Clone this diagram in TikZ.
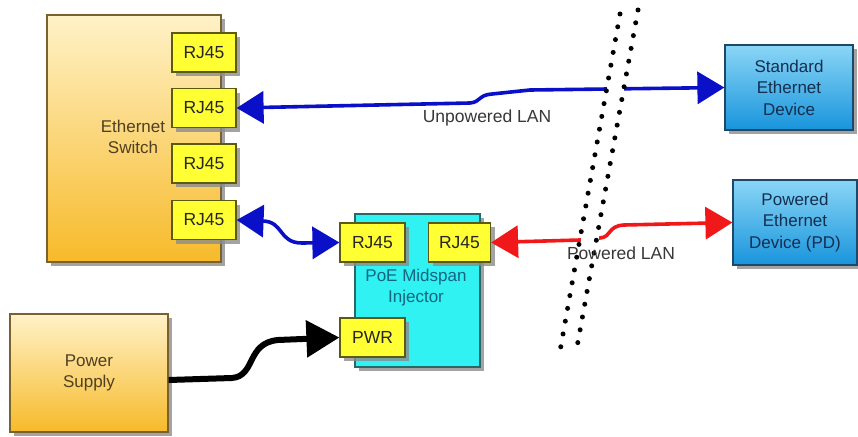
\documentclass[tikz,border=0pt]{standalone}
\usepackage{fontspec}
\setmainfont{Liberation Sans}
\usetikzlibrary{arrows.meta,shadows}
\definecolor{swtop}{HTML}{FFF2C8}
\definecolor{swbot}{HTML}{F7BA2A}
\definecolor{swbrd}{HTML}{7A6230}
\definecolor{swtxt}{HTML}{4E4020}
\definecolor{rjfill}{HTML}{FFFF33}
\definecolor{rjbrd}{HTML}{5A5A10}
\definecolor{injfill}{HTML}{30F2F2}
\definecolor{injbrd}{HTML}{2A6868}
\definecolor{injtxt}{HTML}{156480}
\definecolor{devtop}{HTML}{8AD6F6}
\definecolor{devbot}{HTML}{1894DC}
\definecolor{devbrd}{HTML}{1E4868}
\definecolor{devtxt}{HTML}{142E50}
\definecolor{lblue}{HTML}{0A10C8}
\definecolor{lred}{HTML}{F01818}
\definecolor{lbltxt}{HTML}{383838}
\tikzset{
  shad/.style={drop shadow={shadow xshift=4pt,shadow yshift=-4pt,fill=black!45,opacity=0.8}},
  goldbox/.style={draw=swbrd,line width=1.2pt,top color=swtop,bottom color=swbot,shad,
    text=swtxt,align=center,font=\fontsize{17}{21}\selectfont,inner sep=0pt},
  port/.style={draw=rjbrd,line width=1.2pt,fill=rjfill,shad,minimum height=39pt,
    text=black!85,font=\fontsize{17.5}{20}\selectfont,inner sep=0pt},
  injbox/.style={draw=injbrd,line width=1.2pt,fill=injfill,shad},
  devbox/.style={draw=devbrd,line width=1.2pt,top color=devtop,bottom color=devbot,shad,
    text=devtxt,align=center,font=\fontsize{17}{21.5}\selectfont,inner sep=0pt},
  bl/.style={draw=lblue,line width=3.6pt,{Triangle[length=27pt,width=32pt]}-{Triangle[length=27pt,width=32pt]}},
  rd/.style={draw=lred,line width=3.6pt,{Triangle[length=27pt,width=32pt]}-{Triangle[length=27pt,width=32pt]}},
  bk/.style={draw=black,line width=6pt,-{Triangle[length=33pt,width=36pt]}},
  dotline/.style={draw=black,line width=5pt,line cap=round,dash pattern=on 0pt off 13pt},
  lbl/.style={text=lbltxt,font=\fontsize{17.5}{20}\selectfont}
}
\begin{document}
\begin{tikzpicture}[x=1pt,y=-1pt]
\useasboundingbox[fill=white] (0,0) rectangle (858,436);
% Ethernet switch
\node[goldbox,minimum width=174pt,minimum height=247pt] (sw) at (134,138.5) {};
\node[text=swtxt,align=center,font=\fontsize{17}{21}\selectfont] (swl) at (133,137) {Ethernet\\Switch};
\node[port,minimum width=64pt] (p1) at (204,52.5) {RJ45};
\node[port,minimum width=64pt] (p2) at (204,108) {RJ45};
\node[port,minimum width=64pt] (p3) at (204,163.5) {RJ45};
\node[port,minimum width=64pt] (p4) at (204,220) {RJ45};
% Injector
\node[injbox,minimum width=125pt,minimum height=153pt] (inj) at (417.5,290.5) {};
\node[text=injtxt,align=center,font=\fontsize{17}{21}\selectfont] (injl) at (416,288) {PoE Midspan\\Injector};
\node[port,minimum width=65pt] (ir1) at (372.5,242.5) {RJ45};
\node[port,minimum width=62pt] (ir2) at (459.5,242.5) {RJ45};
\node[port,minimum width=65pt] (pwr) at (372.5,337.5) {PWR};
% Power supply
\node[goldbox,minimum width=158pt,minimum height=118pt] (ps) at (89,373) {Power\\Supply};
% Devices
\node[devbox,minimum width=128pt,minimum height=85pt] (sed) at (789,87.5) {Standard\\Ethernet\\Device};
\node[devbox,minimum width=124pt,minimum height=85pt] (pd) at (795,222.5) {Powered\\Ethernet\\Device (PD)};
% connectors
\draw[bl] (p2.east) -- (470,103) .. controls (481,102) and (478,95) .. (492,94) -- (530,90) -- (sed.west);
\draw[white,line width=7pt] (607,89) -- (624,89);
\draw[bl] (p4.east) -- (262,221) .. controls (284,221) and (278,243) .. (302,243) -- (ir1.west);
\draw[rd] (ir2.east) -- (580,240) -- (600,238) .. controls (612,237) and (607,226) .. (624,225) -- (pd.west);
\draw[white,line width=7pt] (581,239) -- (599,239);
\draw[bk] ([yshift=-7pt]ps.east) -- (232,378) .. controls (256,376) and (246,343) .. (278,340) -- (pwr.west);
% dotted break lines
\draw[dotline] (620,14) -- (560,351);
\draw[dotline] (638,10) -- (577,347);
% labels
\node[lbl] (ul) at (487,118) {Unpowered LAN};
\node[lbl] (pl) at (621,253) {Powered LAN};
\end{tikzpicture}
\end{document}
